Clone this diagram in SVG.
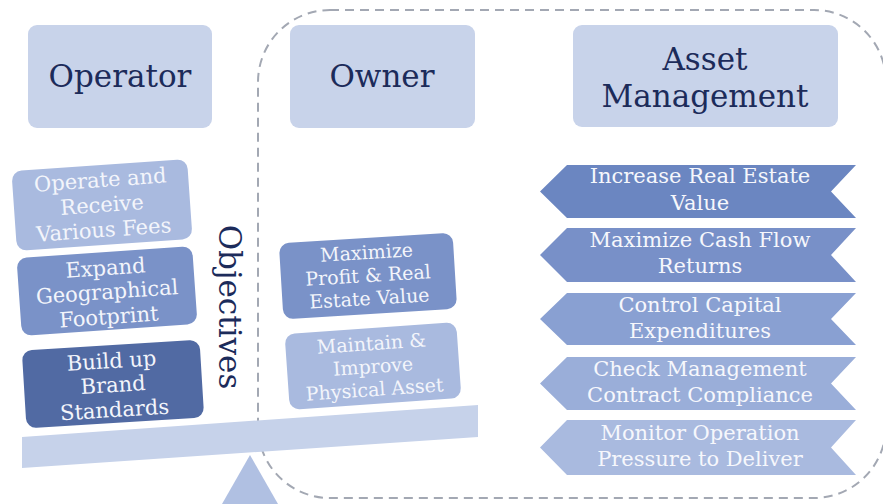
<svg xmlns="http://www.w3.org/2000/svg" width="883" height="504" viewBox="0 0 883 504">
<style>
.head{fill:#c8d3ea}
.ht{font-family:"DejaVu Serif","Liberation Serif",serif;font-size:31px;fill:#1c2b5a;text-anchor:middle}
.bt{font-family:"DejaVu Serif","Liberation Serif",serif;font-size:21px;fill:#f3f5fb;text-anchor:middle}
.ot{font-family:"DejaVu Serif","Liberation Serif",serif;font-size:19px;fill:#f3f5fb;text-anchor:middle}
.ct{font-family:"DejaVu Serif","Liberation Serif",serif;font-size:21px;fill:#f6f7fc;text-anchor:middle}
.light{fill:#a9badf}
.mid{fill:#7a92c8}
.dark{fill:#516aa3}
</style>
<g id="owner-boundary">
<rect x="258" y="10" width="628" height="488" rx="72" fill="none" stroke="#a3a8b3" stroke-width="2" stroke-dasharray="9 6"/>
</g>
<g id="operator">
<rect class="head" x="28" y="25" width="184" height="103" rx="9"/>
<text class="ht" x="120" y="87">Operator</text>
</g>
<g id="owner">
<rect class="head" x="290" y="25" width="185" height="103" rx="9"/>
<text class="ht" x="382" y="87">Owner</text>
</g>
<g id="asset-management">
<rect class="head" x="573" y="25" width="265" height="102" rx="9"/>
<text class="ht" x="705" y="70">Asset</text>
<text class="ht" x="705" y="107">Management</text>
</g>
<g id="op1" transform="translate(102,205) rotate(-4)">
<rect class="light" x="-88" y="-40" width="176" height="80" rx="10"/>
<text class="bt" x="0" y="-18">Operate and</text>
<text class="bt" x="0" y="7">Receive</text>
<text class="bt" x="0" y="32">Various Fees</text>
</g>
<g id="op2" transform="translate(107,291) rotate(-4)">
<rect class="mid" x="-88" y="-39" width="176" height="78" rx="10"/>
<text class="bt" x="0" y="-16">Expand</text>
<text class="bt" x="0" y="8">Geographical</text>
<text class="bt" x="0" y="33">Footprint</text>
</g>
<g id="op3" transform="translate(113,384) rotate(-3.5)">
<rect class="dark" x="-89" y="-39" width="178" height="78" rx="10"/>
<text class="bt" x="0" y="-16">Build up</text>
<text class="bt" x="0" y="8">Brand</text>
<text class="bt" x="0" y="33">Standards</text>
</g>
<g id="objectives">
<text class="ht" transform="translate(219,307) rotate(90)" x="0" y="0">Objectives</text>
</g>
<g id="ow1" transform="translate(368,276) rotate(-3.5)">
<rect class="mid" x="-87" y="-38" width="174" height="76" rx="10"/>
<text class="ot" x="0" y="-17">Maximize</text>
<text class="ot" x="0" y="6">Profit &amp; Real</text>
<text class="ot" x="0" y="29">Estate Value</text>
</g>
<g id="ow2" transform="translate(373,366) rotate(-4)">
<rect class="light" x="-86" y="-38" width="172" height="76" rx="10"/>
<text class="ot" x="0" y="-16">Maintain &amp;</text>
<text class="ot" x="0" y="7">Improve</text>
<text class="ot" x="0" y="30">Physical Asset</text>
</g>
<g id="balance">
<polygon points="22,437 478,405 478,437 22,468" fill="#c6d2ea"/>
<polygon points="250,455 222,504 278,504" fill="#b0c0e2"/>
</g>
<g id="am1">
<polygon points="540,191.5 567,165 856,165 831,191.5 856,218 567,218" fill="#6b86c1"/>
<text class="ct" x="700" y="183">Increase Real Estate</text>
<text class="ct" x="700" y="210">Value</text>
</g>
<g id="am2">
<polygon points="540,255 567,228 856,228 831,255 856,282 567,282" fill="#7890c8"/>
<text class="ct" x="700" y="247">Maximize Cash Flow</text>
<text class="ct" x="700" y="273">Returns</text>
</g>
<g id="am3">
<polygon points="540,319 567,293 856,293 831,319 856,345 567,345" fill="#89a0d2"/>
<text class="ct" x="700" y="312">Control Capital</text>
<text class="ct" x="700" y="338">Expenditures</text>
</g>
<g id="am4">
<polygon points="540,383.5 567,357 856,357 831,383.5 856,410 567,410" fill="#9aaed9"/>
<text class="ct" x="700" y="376">Check Management</text>
<text class="ct" x="700" y="402">Contract Compliance</text>
</g>
<g id="am5">
<polygon points="540,447.5 567,420 856,420 831,447.5 856,475 567,475" fill="#a9badf"/>
<text class="ct" x="700" y="440">Monitor Operation</text>
<text class="ct" x="700" y="466">Pressure to Deliver</text>
</g>
</svg>
